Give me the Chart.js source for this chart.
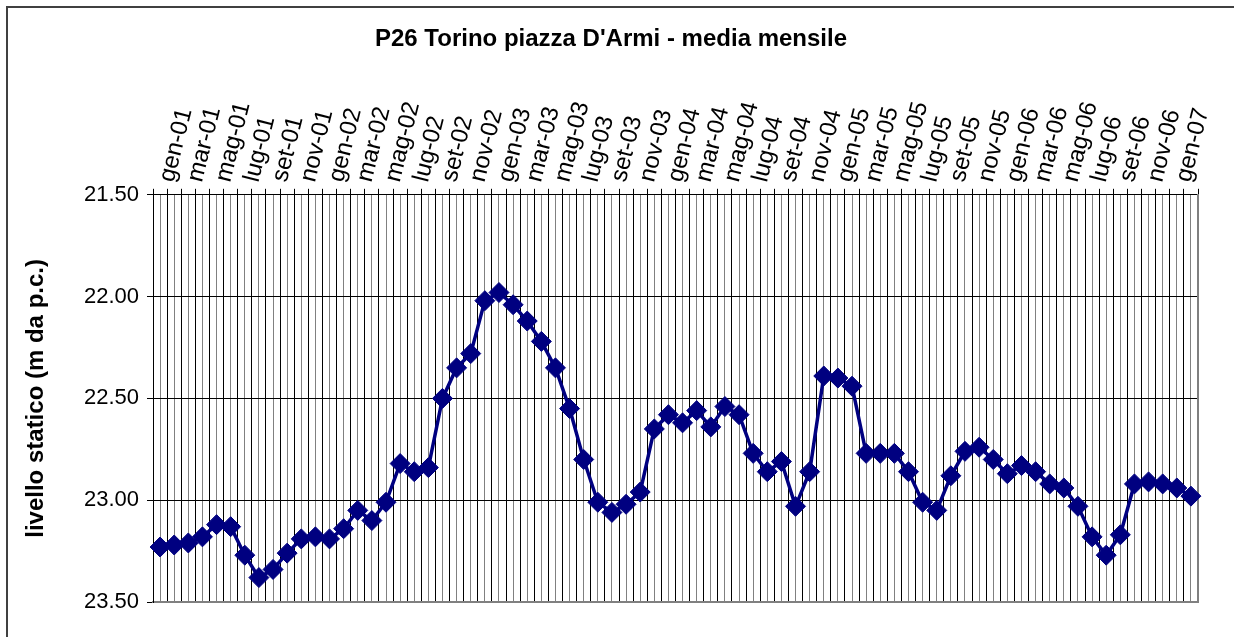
<!DOCTYPE html>
<html lang="it">
<head>
    <meta charset="UTF-8">
    <title>P26 Torino piazza D'Armi - media mensile</title>
    <script src="https://cdn.jsdelivr.net/npm/chart.js"></script>
    <style>
        body { margin: 0; background: #fff; }
        #contenitore { position: relative; width: 1234px; height: 637px; overflow: hidden; }
        /* cornice esterna del grafico, esce dal bordo a destra e in basso */
        #cornice { position: absolute; left: 6px; top: 6px; width: 1300px; height: 700px; border: 2px solid #404040; }
        #grafico { position: absolute; left: 0; top: 0; }
    </style>
</head>
<body>
    <div id="contenitore">
        <div id="cornice"></div>
        <canvas id="grafico" width="1234" height="637"></canvas>
    </div>

    <script>
        const titolo = "P26 Torino piazza D'Armi - media mensile";
        const titoloAsseY = 'livello statico (m da p.c.)';

        // mesi da gennaio 2001 a febbraio 2007
        const mesi = [
            'gen-01', 'feb-01', 'mar-01', 'apr-01', 'mag-01', 'giu-01', 'lug-01', 'ago-01', 'set-01', 'ott-01', 'nov-01', 'dic-01',
            'gen-02', 'feb-02', 'mar-02', 'apr-02', 'mag-02', 'giu-02', 'lug-02', 'ago-02', 'set-02', 'ott-02', 'nov-02', 'dic-02',
            'gen-03', 'feb-03', 'mar-03', 'apr-03', 'mag-03', 'giu-03', 'lug-03', 'ago-03', 'set-03', 'ott-03', 'nov-03', 'dic-03',
            'gen-04', 'feb-04', 'mar-04', 'apr-04', 'mag-04', 'giu-04', 'lug-04', 'ago-04', 'set-04', 'ott-04', 'nov-04', 'dic-04',
            'gen-05', 'feb-05', 'mar-05', 'apr-05', 'mag-05', 'giu-05', 'lug-05', 'ago-05', 'set-05', 'ott-05', 'nov-05', 'dic-05',
            'gen-06', 'feb-06', 'mar-06', 'apr-06', 'mag-06', 'giu-06', 'lug-06', 'ago-06', 'set-06', 'ott-06', 'nov-06', 'dic-06',
            'gen-07', 'feb-07'
        ];

        // livello statico medio mensile (m da p.c.)
        const livello = [
            23.23, 23.22, 23.21, 23.18, 23.12, 23.13, 23.27, 23.38, 23.34, 23.26, 23.19, 23.18,
            23.19, 23.14, 23.05, 23.10, 23.01, 22.82, 22.86, 22.84, 22.50, 22.35, 22.28, 22.02,
            21.98, 22.04, 22.12, 22.22, 22.35, 22.55, 22.80, 23.01, 23.06, 23.02, 22.96, 22.65,
            22.58, 22.62, 22.56, 22.64, 22.54, 22.58, 22.77, 22.86, 22.81, 23.03, 22.86, 22.39,
            22.40, 22.44, 22.77, 22.77, 22.77, 22.86, 23.01, 23.05, 22.88, 22.76, 22.74, 22.80,
            22.87, 22.83, 22.86, 22.92, 22.94, 23.03, 23.18, 23.27, 23.17, 22.92, 22.91, 22.92,
            22.94, 22.98
        ];

        const asseMin = 21.5;
        const asseMax = 23.5;
        const passo = 0.5;

        const FONT = "'Liberation Sans', Arial, sans-serif";
        Chart.defaults.font.family = FONT;
        Chart.defaults.color = '#000';

        const ctx = document.getElementById('grafico').getContext('2d');

        const grafico = new Chart(ctx, {
            type: 'line',
            data: {
                labels: mesi,
                datasets: [{
                    label: 'P26',
                    data: livello,
                    xAxisID: 'x',
                    yAxisID: 'y',
                    borderColor: '#000080',
                    backgroundColor: '#000080',
                    borderWidth: 3.5,
                    tension: 0,
                    pointStyle: 'rectRot',
                    pointRadius: 10,
                    pointBorderWidth: 1,
                    pointBorderColor: '#000080',
                    pointBackgroundColor: '#000080'
                }]
            },
            options: {
                responsive: false,
                animation: false,
                devicePixelRatio: 1,
                layout: { padding: { left: 24, top: 0, right: 36, bottom: 35 } },
                plugins: {
                    legend: { display: false },
                    tooltip: { enabled: false },
                    title: {
                        display: true,
                        text: titolo,
                        color: '#000',
                        font: { size: 24, weight: 'bold' },
                        padding: { top: 25, bottom: 7 }
                    }
                },
                scales: {
                    // asse dei mesi in alto, griglia nera ai bordi delle categorie
                    x: {
                        type: 'category',
                        position: 'top',
                        offset: true,
                        grid: { offset: true, color: '#000', lineWidth: 1, tickLength: 6, tickColor: '#000' },
                        border: { color: '#000', width: 1 },
                        ticks: {
                            autoSkip: false,
                            minRotation: 76,
                            maxRotation: 76,
                            padding: 4,
                            labelOffset: 35,
                            color: '#000',
                            font: { size: 24 },
                            callback: function (v, i) {
                                return i % 2 === 0 ? this.getLabelForValue(v) : '';
                            }
                        },
                        afterFit: s => { s.height = 134; }
                    },
                    // linee grigie al centro di ogni mese + bordo inferiore
                    x2: {
                        type: 'category',
                        position: 'bottom',
                        offset: true,
                        grid: { offset: false, color: '#808080', lineWidth: 1, drawTicks: false },
                        border: { color: '#808080', width: 2 },
                        ticks: { display: false },
                        afterFit: s => { s.height = 0; }
                    },
                    y: {
                        position: 'left',
                        reverse: true,
                        min: asseMin,
                        max: asseMax,
                        grid: { color: '#000', lineWidth: 1, tickLength: 6, tickColor: '#000' },
                        border: { color: '#000', width: 1 },
                        ticks: {
                            stepSize: passo,
                            padding: 8,
                            color: '#000',
                            font: { size: 22 },
                            callback: v => Number(v).toFixed(2)
                        },
                        title: {
                            display: true,
                            text: titoloAsseY,
                            color: '#000',
                            font: { size: 24, weight: 'bold', lineHeight: 1 },
                            padding: { top: 0, bottom: 0 }
                        },
                        afterFit: s => { s.width = 129; }
                    },
                    // solo per il bordo destro grigio dell'area del grafico
                    y2: {
                        position: 'right',
                        min: asseMin,
                        max: asseMax,
                        grid: { display: false },
                        ticks: { display: false },
                        border: { color: '#808080', width: 2 },
                        afterFit: s => { s.width = 0; }
                    }
                }
            }
        });
    </script>
</body>
</html>
